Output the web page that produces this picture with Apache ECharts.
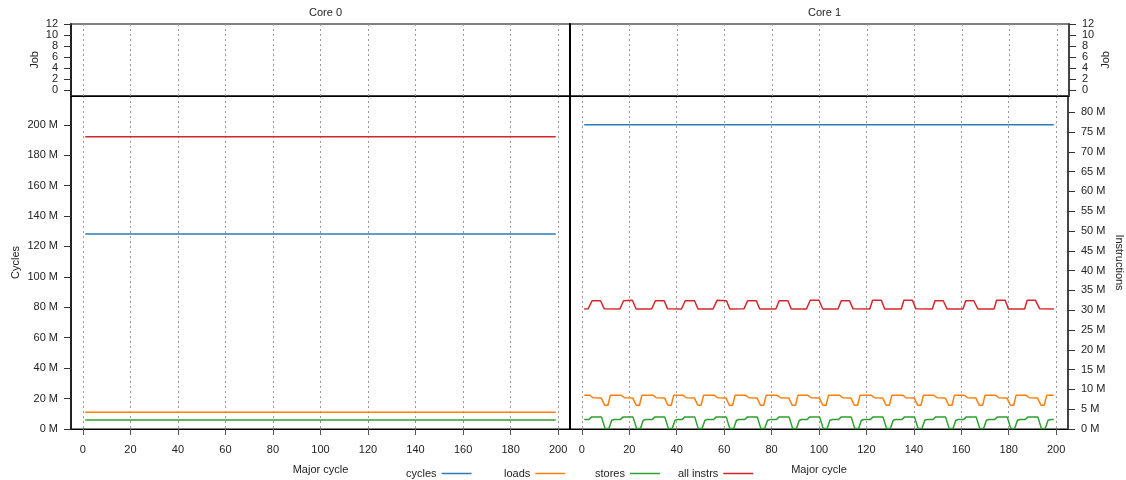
<!DOCTYPE html>
<html><head><meta charset="utf-8">
<script src="https://cdn.jsdelivr.net/npm/echarts@6/dist/echarts.min.js"></script>
<style>html,body{margin:0;padding:0;background:#fff}#c{width:1126px;height:480px}</style>
</head><body><div id="c"></div>
<script>
// ---- tick labels ----
const xTicks = [0,20,40,60,80,100,120,140,160,180,200];
const cycleTicks = [0,20,40,60,80,100,120,140,160,180,200];
const instrTicks = [0,5,10,15,20,25,30,35,40,45,50,55,60,65,70,75,80];
const jobTicks = [0,2,4,6,8,10,12];
const panelTitles = ['Core 0','Core 1'];
const seriesNames = ['cycles','loads','stores','all instrs'];

// ---- data (values in millions, x in major cycles) ----
const core0Cycles = [[1,128.2],[199,128.2]];
const core0Loads  = [[1,4.26],[199,4.26]];
const core0Stores = [[1,2.26],[199,2.26]];
const core0Instrs = [[1,73.8],[199,73.8]];

const core1Cycles = [[1,200.0],[199,200.0]];
const core1Instrs = [
[1,30.3],[2.7,30.4],[4.3,32.4],[7.9,32.4],[9.4,30.4],
[16.0,30.3],[17.6,32.4],[21.3,32.5],[22.9,30.3],
[29.4,30.3],[31.0,32.4],[34.7,32.4],[36.1,30.4],
[42.0,30.3],[43.6,32.4],[47.5,32.4],[49.0,30.3],
[55.3,30.3],[57.0,32.5],[61.0,32.4],[62.4,30.3],
[68.4,30.4],[69.9,32.4],[73.6,32.4],[75.0,30.3],
[81.8,30.3],[83.2,32.4],[86.9,32.4],[88.3,30.3],
[94.7,30.3],[96.3,32.5],[100.0,32.5],[101.6,30.3],
[108.0,30.3],[109.4,32.4],[112.9,32.4],[114.3,30.4],
[121.4,30.3],[122.6,32.5],[126.3,32.5],[127.7,30.3],
[134.7,30.3],[135.8,32.5],[139.4,32.5],[140.8,30.4],
[147.8,30.3],[148.9,32.4],[152.4,32.4],[154.0,30.3],
[160.7,30.3],[161.9,32.4],[165.3,32.4],[167.0,30.3],
[173.8,30.3],[174.9,32.5],[178.5,32.5],[179.9,30.3],
[186.7,30.3],[187.8,32.5],[191.3,32.5],[193.0,30.4],
[199,30.3]];
const core1Loads = [
[1,8.5],[3.4,8.5],[4.7,7.9],[8.2,7.8],[9.6,6.0],[11.0,6.0],[12.0,8.5],
[16.7,8.5],[18.0,7.9],[21.5,7.8],[22.9,6.0],[24.3,6.0],[25.3,8.5],
[30.1,8.5],[31.4,7.9],[34.9,7.8],[36.3,6.0],[37.7,6.0],[38.7,8.5],
[42.7,8.5],[44.0,7.9],[47.5,7.8],[48.9,6.0],[50.3,6.0],[51.3,8.5],
[56.0,8.5],[57.3,7.9],[60.8,7.8],[62.2,6.0],[63.6,6.0],[64.6,8.5],
[69.1,8.5],[70.4,7.9],[73.9,7.8],[75.3,6.0],[76.7,6.0],[77.7,8.5],
[82.5,8.5],[83.8,7.9],[87.3,7.8],[88.7,6.0],[90.1,6.0],[91.1,8.5],
[95.4,8.5],[96.7,7.9],[100.2,7.8],[101.6,6.0],[103.0,6.0],[104.0,8.5],
[108.7,8.5],[110.0,7.9],[113.5,7.8],[114.9,6.0],[116.3,6.0],[117.3,8.5],
[122.1,8.5],[123.4,7.9],[126.9,7.8],[128.3,6.0],[129.7,6.0],[130.7,8.5],
[135.4,8.5],[136.7,7.9],[140.2,7.8],[141.6,6.0],[143.0,6.0],[144.0,8.5],
[148.5,8.5],[149.8,7.9],[153.3,7.8],[154.7,6.0],[156.1,6.0],[157.1,8.5],
[161.4,8.5],[162.7,7.9],[166.2,7.8],[167.6,6.0],[169.0,6.0],[170.0,8.5],
[174.5,8.5],[175.8,7.9],[179.3,7.8],[180.7,6.0],[182.1,6.0],[183.1,8.5],
[187.4,8.5],[188.7,7.9],[192.2,7.8],[193.6,6.0],[195.0,6.0],[196.0,8.5],
[199,8.5]];
const core1Stores = [
[1,2.4],[3.0,2.4],[4.0,3.0],[8.3,3.0],[9.8,0.1],[11.4,0.1],[12.6,2.2],[13.7,2.4],
[16.3,2.4],[17.3,3.0],[21.6,3.0],[23.1,0.1],[24.7,0.1],[25.9,2.2],[27.0,2.4],
[29.7,2.4],[30.7,3.0],[35.0,3.0],[36.5,0.1],[38.1,0.1],[39.3,2.2],[40.4,2.4],
[42.3,2.4],[43.3,3.0],[47.6,3.0],[49.1,0.1],[50.7,0.1],[51.9,2.2],[53.0,2.4],
[55.6,2.4],[56.6,3.0],[60.9,3.0],[62.4,0.1],[64.0,0.1],[65.2,2.2],[66.3,2.4],
[68.7,2.4],[69.7,3.0],[74.0,3.0],[75.5,0.1],[77.1,0.1],[78.3,2.2],[79.4,2.4],
[82.1,2.4],[83.1,3.0],[87.4,3.0],[88.9,0.1],[90.5,0.1],[91.7,2.2],[92.8,2.4],
[95.0,2.4],[96.0,3.0],[100.3,3.0],[101.8,0.1],[103.4,0.1],[104.6,2.2],[105.7,2.4],
[108.3,2.4],[109.3,3.0],[113.6,3.0],[115.1,0.1],[116.7,0.1],[117.9,2.2],[119.0,2.4],
[121.7,2.4],[122.7,3.0],[127.0,3.0],[128.5,0.1],[130.1,0.1],[131.3,2.2],[132.4,2.4],
[135.0,2.4],[136.0,3.0],[140.3,3.0],[141.8,0.1],[143.4,0.1],[144.6,2.2],[145.7,2.4],
[148.1,2.4],[149.1,3.0],[153.4,3.0],[154.9,0.1],[156.5,0.1],[157.7,2.2],[158.8,2.4],
[161.0,2.4],[162.0,3.0],[166.3,3.0],[167.8,0.1],[169.4,0.1],[170.6,2.2],[171.7,2.4],
[174.1,2.4],[175.1,3.0],[179.4,3.0],[180.9,0.1],[182.5,0.1],[183.7,2.2],[184.8,2.4],
[187.0,2.4],[188.0,3.0],[192.3,3.0],[193.8,0.1],[195.4,0.1],[196.6,2.2],[197.7,2.4],
[199,2.4]];

const colors = {cycles:'#2b7bba', loads:'#ff7f0e', stores:'#2ca02c', 'all instrs':'#d62728'};
const FONT = 'Liberation Sans, Arial, sans-serif';
const txt = {fontFamily: FONT, fontSize: 11, color: '#222'};

const L = 71, MID = 570, R = 1069, TOP = 24, SPLIT = 96, BOT = 431;
const grids = [
  {left: L, top: TOP, width: MID - L, height: SPLIT - TOP},
  {left: MID, top: TOP, width: R - MID, height: SPLIT - TOP},
  {left: L, top: SPLIT, width: MID - L, height: BOT - SPLIT},
  {left: MID, top: SPLIT, width: R - MID, height: BOT - SPLIT}
].map(g => Object.assign(g, {show: true, borderColor: '#000', borderWidth: 1, backgroundColor: 'transparent'}));

function xAx(gi, main) {
  return {
    type: 'value', gridIndex: gi, min: -5, max: 205,
    axisLine: {show: true, onZero: false, lineStyle: {color: '#000', width: 1}},
    axisTick: {show: main, customValues: xTicks, length: 6, lineStyle: {color: '#555'}},
    axisLabel: {show: main, customValues: xTicks, margin: 15, ...txt},
    splitLine: {show: true, lineStyle: {color: '#999', type: [2, 3], width: 1}},
    name: main ? 'Major cycle' : '', nameLocation: 'middle', nameGap: 35,
    nameTextStyle: txt
  };
}
function yAx(gi, pos, opts) {
  const show = !!opts.ticks;
  return {
    type: 'value', gridIndex: gi, position: pos, min: opts.min, max: opts.max,
    axisLine: {show: true, onZero: false, lineStyle: {color: opts.lineColor || '#000', width: 2}},
    axisTick: {show: show, customValues: opts.ticks || [], length: 7, lineStyle: {color: '#333'}},
    axisLabel: {show: show, customValues: opts.ticks || [], margin: 13, ...txt,
      formatter: opts.fmt || '{value}'},
    splitLine: {show: false},
    name: opts.name || '', nameLocation: 'middle', nameGap: opts.gap || 30,
    nameRotate: opts.rot, nameTextStyle: txt
  };
}

const yAxes = [
  yAx(0, 'left', {min: -1, max: 12, ticks: jobTicks, name: 'Job', gap: 31, lineColor: '#222'}),
  yAx(1, 'left', {min: -1, max: 12}),
  yAx(1, 'right', {min: -1, max: 12, ticks: jobTicks, name: 'Job', gap: 31, lineColor: '#444', rot: 90}),
  yAx(2, 'left', {min: 0, max: 218.9, ticks: cycleTicks, fmt: '{value} M', name: 'Cycles', gap: 50, lineColor: '#222'}),
  yAx(2, 'right', {min: 0, max: 84.1}),
  yAx(3, 'left', {min: 0, max: 218.9}),
  yAx(3, 'right', {min: 0, max: 84.1, ticks: instrTicks, fmt: '{value} M', name: 'Instructions', gap: 46, lineColor: '#444', rot: -90})
];

function line(name, xi, yi, data) {
  return {name, type: 'line', xAxisIndex: xi, yAxisIndex: yi, data,
    showSymbol: false, symbol: 'none', animation: false, silent: true,
    lineStyle: {color: colors[name], width: 1.5}, itemStyle: {color: colors[name]}};
}

const legendLefts = [401, 499, 590, 673];
const legends = seriesNames.map((n, i) => ({
  data: [n], left: legendLefts[i], top: 463, align: 'right', icon: 'rect',
  itemWidth: 30, itemHeight: 1.5, textStyle: txt, selectedMode: false
}));

const option = {
  animation: false,
  textStyle: {fontFamily: FONT},
  title: [
    {text: panelTitles[0], left: (L + MID) / 2, top: 2, textAlign: 'center', textStyle: {...txt, fontWeight: 'normal'}},
    {text: panelTitles[1], left: (MID + R) / 2, top: 2, textAlign: 'center', textStyle: {...txt, fontWeight: 'normal'}}
  ],
  legend: legends,
  grid: grids,
  xAxis: [xAx(0, false), xAx(1, false), xAx(2, true), xAx(3, true)],
  yAxis: yAxes,
  series: [
    line('cycles', 2, 3, core0Cycles),
    line('loads', 2, 4, core0Loads),
    line('stores', 2, 4, core0Stores),
    line('all instrs', 2, 4, core0Instrs),
    line('cycles', 3, 5, core1Cycles),
    line('loads', 3, 6, core1Loads),
    line('stores', 3, 6, core1Stores),
    line('all instrs', 3, 6, core1Instrs)
  ]
};
const chart = echarts.init(document.getElementById('c'), null, {renderer: 'canvas'});
chart.setOption(option);
</script></body></html>
